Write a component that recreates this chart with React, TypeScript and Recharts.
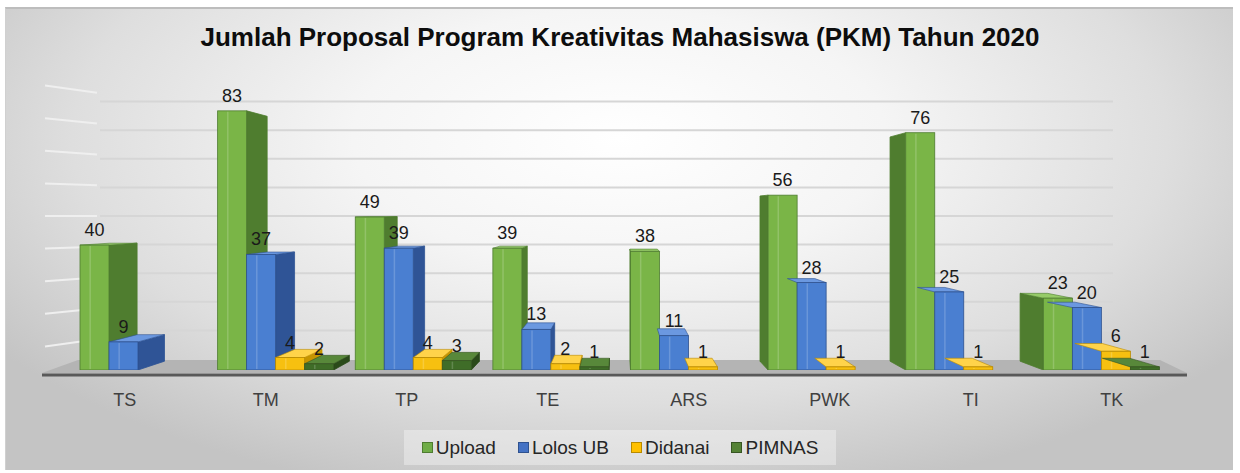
import React from "react";
import { BarChart, Bar, XAxis, YAxis, CartesianGrid, Legend, LabelList } from "recharts";

const categories = ["TS", "TM", "TP", "TE", "ARS", "PWK", "TI", "TK"];
const upload = [40, 83, 49, 39, 38, 56, 76, 23];
const lolosUB = [9, 37, 39, 13, 11, 28, 25, 20];
const didanai = [null, 4, 4, 2, 1, 1, 1, 6];
const pimnas = [null, 2, 3, 1, null, null, null, 1];
const wallTicks = [10, 20, 30, 40, 50, 60, 70, 80, 90];

const W = 1240;
const H = 473;
const FONT = '"Liberation Sans", Arial, sans-serif';
// fake perspective: every face recedes toward this point
const VP = { x: 620, y: 210 };
const DEPTH = 0.055;
const M = { top: 89, right: 70, bottom: 8, left: 69 };

const series = [
  { key: "upload", name: "Upload", front: "#7ab547", side: "#4f7d2f", top: "#96cb68", legend: "#70ad47", border: "#4e7c30" },
  { key: "lolos", name: "Lolos UB", front: "#4a7fd1", side: "#2f5496", top: "#6b98e0", legend: "#4472c4", border: "#2f528f" },
  { key: "didanai", name: "Didanai", front: "#f7c010", side: "#c79500", top: "#ffd34a", legend: "#ffc000", border: "#b88a00" },
  { key: "pimnas", name: "PIMNAS", front: "#3f6d28", side: "#2a4a1a", top: "#58883a", legend: "#548235", border: "#375623" },
];

const data = categories.map((c, i) => ({
  name: c,
  upload: upload[i],
  lolos: lolosUB[i],
  didanai: didanai[i],
  pimnas: pimnas[i],
}));

const back = (px: number, py: number) => [px + (VP.x - px) * DEPTH, py + (VP.y - py) * DEPTH];

function Bar3D(props: any) {
  const { x, y, width, height, s, idx } = props;
  if (height == null || !(width > 0) || !(height > 0)) return null;
  const l = x, r = x + width, t = y, b = y + height;
  let side = null;
  if (r < VP.x) {
    const [bx, bt] = back(r, t);
    const [, bb] = back(r, b);
    side = <polygon points={`${r},${t} ${bx},${bt} ${bx},${bb} ${r},${b}`} fill={s.side} stroke={s.side} strokeWidth={0.8} />;
  } else if (l > VP.x && idx === 0) {
    const [bx, bt] = back(l, t);
    const [, bb] = back(l, b);
    side = <polygon points={`${l},${t} ${bx},${bt} ${bx},${bb} ${l},${b}`} fill={s.side} stroke={s.side} strokeWidth={0.8} />;
  }
  let top = null;
  if (t > VP.y) {
    const [lx, ly] = back(l, t);
    const [rx, ry] = back(r, t);
    top = <polygon points={`${l},${t} ${r},${t} ${rx},${ry} ${lx},${ly}`} fill={s.top} stroke={s.border} strokeWidth={0.6} />;
  }
  return (
    <g>
      {side}
      {top}
      <rect x={l} y={t} width={width} height={height} fill={s.front} stroke={s.border} strokeWidth={0.8} />
      <line x1={l + width * 0.35} x2={l + width * 0.35} y1={t + 1} y2={b - 1} stroke="#ffffff" strokeOpacity={0.18} strokeWidth={1.5} />
    </g>
  );
}

function ValueLabel(props: any) {
  const { x, y, width, value } = props;
  if (value == null) return null;
  return (
    <text x={x + width / 2} y={y - 9} textAnchor="middle" fontSize={18} fill="#1a1a1a" fontFamily={FONT}>
      {value}
    </text>
  );
}

function CategoryTick(props: any) {
  const { x, y, payload } = props;
  const dx = -1.25 + (x - VP.x) * 0.0244;
  return (
    <text x={x + dx} y={y + 36} textAnchor="middle" fontSize={18} fill="#404040" fontFamily={FONT}>
      {payload.value}
    </text>
  );
}

function WallLine(props: any) {
  const { x1, x2, y1 } = props;
  // skip the plot-area edges, only the 10-step wall lines
  if (y1 < M.top + 5 || y1 > H - 108) return <g key={props.key ?? `w-${y1}`} />;
  const yf = y1 + (y1 - 216) * 0.14;
  return (
    <g key={props.key ?? `w-${y1}`}>
      <line x1={x1 + 31} x2={x2 - 57} y1={y1} y2={y1} stroke="#d6d6d6" strokeWidth={2} />
      <line x1={x1 - 24} x2={x1 + 28} y1={yf} y2={yf + (y1 - yf) * 0.45} stroke="#efefef" strokeWidth={2} />
    </g>
  );
}

function LegendBox() {
  return (
    <div style={{ display: "flex", justifyContent: "center" }}>
      <div
        style={{
          display: "flex",
          alignItems: "center",
          gap: 22,
          height: 35,
          padding: "0 18px",
          background: "rgba(255,255,255,0.35)",
          fontFamily: FONT,
          fontSize: 19,
          color: "#262626",
        }}
      >
        {series.map((s) => (
          <div key={s.key} style={{ display: "flex", alignItems: "center" }}>
            <span
              style={{
                display: "inline-block",
                width: 9,
                height: 9,
                background: s.legend,
                border: `1.5px solid ${s.border}`,
                marginRight: 3,
              }}
            />
            {s.name}
          </div>
        ))}
      </div>
    </div>
  );
}

export default function App() {
  return (
    <div style={{ position: "absolute", left: 0, top: 0, width: W, height: H, background: "#ffffff" }}>
      <div
        style={{
          position: "absolute",
          left: 5,
          top: 7,
          width: 1228,
          height: 463,
          boxSizing: "border-box",
          borderTop: "2px solid #bdbdbd",
          borderLeft: "1px solid #d0d0d0",
          background:
            "radial-gradient(ellipse 62% 80% at 50% 28%, #ffffff 0%, #f5f5f5 35%, #dedede 72%, #c4c4c4 100%)",
        }}
      />
      <div
        style={{
          position: "absolute",
          left: 0,
          top: 22,
          width: W,
          textAlign: "center",
          fontFamily: FONT,
          fontWeight: "bold",
          fontSize: 26,
          color: "#0d0d0d",
        }}
      >
        Jumlah Proposal Program Kreativitas Mahasiswa (PKM) Tahun 2020
      </div>
      <div style={{ position: "absolute", left: 0, top: 0 }}>
        <BarChart width={W} height={H} data={data} margin={M} barCategoryGap={11} barGap={0}>
          <CartesianGrid yAxisId="wall" vertical={false} horizontal={WallLine} />
          <g>
            <polygon points={`42,373 1187,373 1160,360 78,360`} fill="#b4b4b4" />
            <line x1={42} x2={1187} y1={375} y2={375} stroke="#595959" strokeWidth={3} />
          </g>
          <XAxis dataKey="name" axisLine={false} tickLine={false} tickSize={0} tickMargin={0} height={60} tick={CategoryTick} interval={0} />
          <YAxis yAxisId="main" hide domain={[0, 90]} type="number" allowDataOverflow />
          <YAxis yAxisId="wall" hide domain={[-3.85, 94.4]} ticks={wallTicks} type="number" allowDataOverflow />
          {series.map((s, i) => (
            <Bar
              key={s.key}
              yAxisId="main"
              dataKey={s.key}
              name={s.name}
              fill={s.legend}
              isAnimationActive={false}
              shape={(p: any) => <Bar3D {...p} s={s} idx={i} />}
            >
              <LabelList dataKey={s.key} content={ValueLabel} />
            </Bar>
          ))}
          <Legend verticalAlign="bottom" wrapperStyle={{ left: 0, width: W, height: 35 }} content={LegendBox} />
        </BarChart>
      </div>
    </div>
  );
}
